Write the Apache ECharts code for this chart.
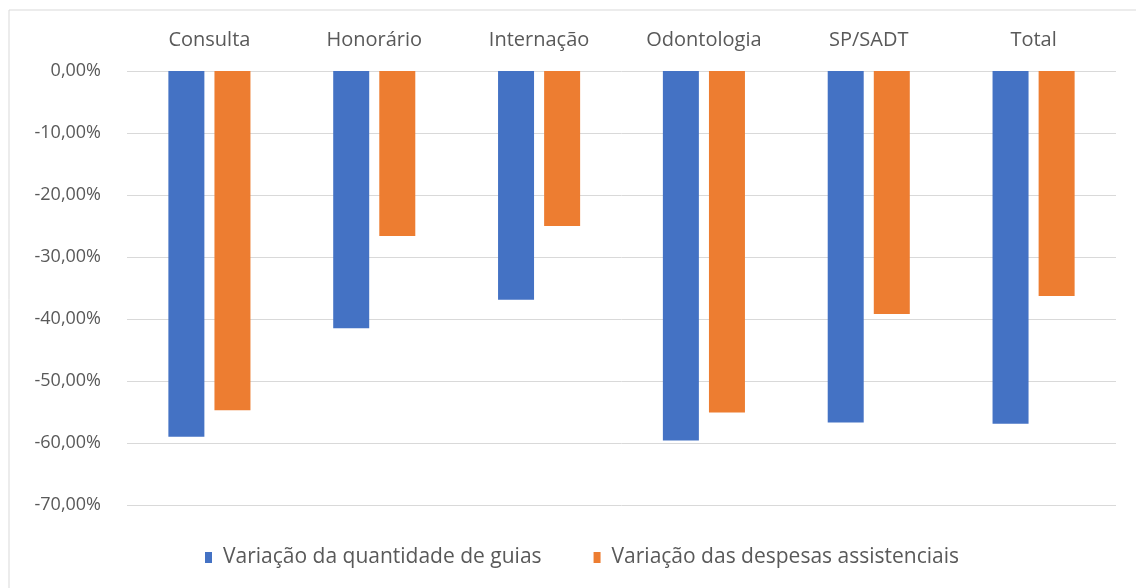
<!DOCTYPE html>
<html>
<head>
<meta charset="utf-8">
<script src="https://cdn.jsdelivr.net/npm/echarts@6/dist/echarts.min.js"></script>
<style>
html, body { margin: 0; padding: 0; background: #fff; }
#main { width: 1136px; height: 588px; }
</style>
</head>
<body>
<div id="main"></div>
<script>
var categorias = ['Consulta', 'Honorário', 'Internação', 'Odontologia', 'SP/SADT', 'Total'];
var varGuias = [-59.0, -41.5, -36.9, -59.6, -56.7, -56.9];
var varDespesas = [-54.7, -26.6, -25.0, -55.1, -39.2, -36.3];
var nomesSeries = ['Variação da quantidade de guias', 'Variação das despesas assistenciais'];

var fonte = '"Open Sans", "Liberation Sans", sans-serif';

function pct(v) {
    return v.toFixed(2).replace('.', ',') + '%';
}

var myChart = echarts.init(document.getElementById('main'));
myChart.setOption({
    animation: false,
    textStyle: { fontFamily: fonte },
    graphic: [{
        type: 'rect',
        shape: { x: 9, y: 10, width: 1140, height: 600 },
        style: { fill: 'none', stroke: '#d9d9d9', lineWidth: 1 }
    }],
    grid: { left: 127, right: 20, top: 71, bottom: 83 },
    legend: {
        bottom: 15,
        left: 200,
        itemWidth: 7,
        itemHeight: 11,
        itemGap: 52,
        icon: 'rect',
        textStyle: { color: '#595959', fontSize: 21, fontFamily: fonte, padding: [0, 0, 0, 6] },
        data: nomesSeries
    },
    xAxis: {
        type: 'category',
        position: 'top',
        data: categorias,
        axisLine: { show: false },
        axisTick: { show: false },
        axisLabel: { color: '#595959', fontSize: 20, margin: 21, fontFamily: fonte }
    },
    yAxis: {
        type: 'value',
        min: -70,
        max: 0,
        interval: 10,
        axisLine: { show: false },
        axisTick: { show: false },
        splitLine: { lineStyle: { color: '#d9d9d9', width: 1 } },
        axisLabel: {
            color: '#595959',
            fontSize: 18,
            margin: 26,
            fontFamily: fonte,
            formatter: pct
        }
    },
    series: [{
        name: nomesSeries[0],
        type: 'bar',
        data: varGuias,
        barWidth: 36,
        barGap: '28%',
        itemStyle: { color: '#4472C4' }
    }, {
        name: nomesSeries[1],
        type: 'bar',
        data: varDespesas,
        barWidth: 36,
        itemStyle: { color: '#ED7D31' }
    }]
});
</script>
</body>
</html>
